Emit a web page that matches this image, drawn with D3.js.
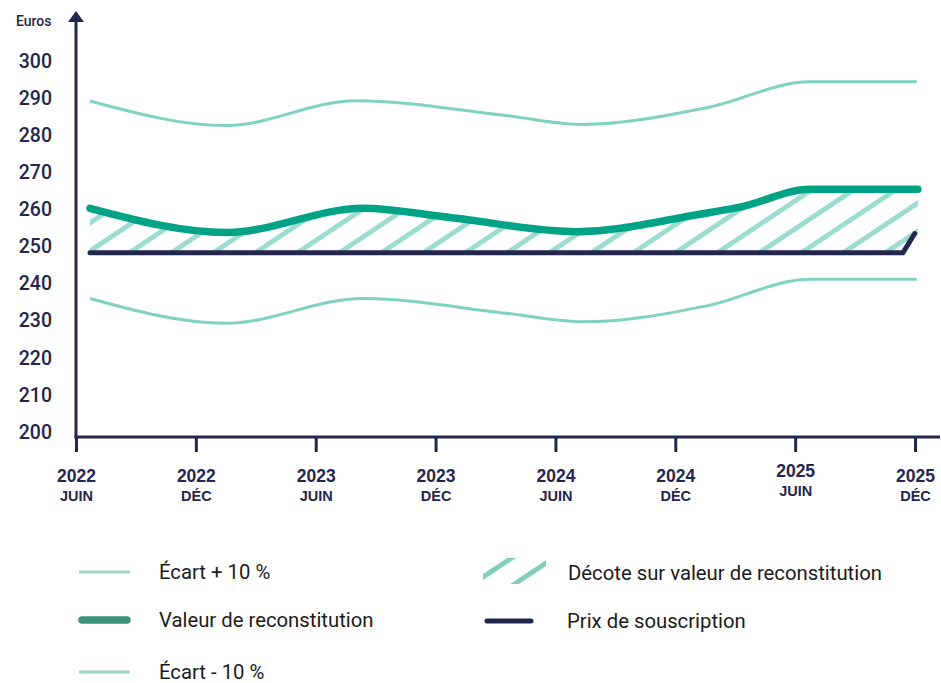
<!DOCTYPE html>
<html>
<head>
<meta charset="utf-8">
<script src="https://cdn.jsdelivr.net/npm/d3@7"></script>
<style>
  body { margin: 0; background: #fff; }
  svg { display: block; font-family: Roboto, "Noto Sans", sans-serif; }
</style>
</head>
<body>
<svg id="chart" width="941" height="683"></svg>
<script>
// months counted from June 2022, values in euros
const ecartPlus = [[0.70, 289.2], [7.51, 282.6], [14.01, 289.3], [21.52, 285.3], [25.23, 282.9], [31.58, 287.4], [36.74, 294.4], [42.09, 294.4]];
const valeur = [[0.70, 260.3], [7.56, 253.8], [14.36, 260.3], [18.72, 257.8], [25.08, 254.0], [31.23, 258.7], [33.23, 260.6], [36.74, 265.4], [42.14, 265.4]];
const ecartMoins = [[0.70, 236.0], [7.51, 229.3], [14.36, 236.0], [21.52, 232.0], [25.38, 229.7], [31.58, 234.0], [36.74, 241.2], [42.09, 241.2]];
const prix = [[0.70, 248.3], [41.39, 248.3], [41.99, 253.5]];

const tickMonths = [0, 6, 12, 18, 24, 30, 36, 42];
const tickYears = ["2022", "2022", "2023", "2023", "2024", "2024", "2025", "2025"];
const tickPeriods = ["JUIN", "DÉC", "JUIN", "DÉC", "JUIN", "DÉC", "JUIN", "DÉC"];
const yTicks = [200, 210, 220, 230, 240, 250, 260, 270, 280, 290, 300];

const navy = "#24264d";
const light = "#7fd2c1";
const main = "#00a386";

const svg = d3.select("#chart");
const x = d3.scaleLinear().domain([0, 42]).range([76, 915]);
const y = d3.scaleLinear().domain([200, 300]).range([432, 61]);
const axisY = 437;

// hatch pattern
const defs = svg.append("defs");
function hatch(id, color) {
  defs.append("pattern")
    .attr("id", id)
    .attr("patternUnits", "userSpaceOnUse")
    .attr("width", 10)
    .attr("height", 23.3)
    .attr("patternTransform", "rotate(-33.7)")
    .append("rect")
    .attr("width", 10)
    .attr("height", 5)
    .attr("fill", color);
}
hatch("hatch", "#9cdccf");
hatch("hatchLegend", "#80cdb9");

// hatched area between prix and valeur
const area = d3.area()
  .x(d => x(d[0]))
  .y0(y(prix[0][1]))
  .y1(d => y(d[1]))
  .curve(d3.curveMonotoneX);

svg.append("path")
  .datum(valeur)
  .attr("d", area)
  .attr("fill", "url(#hatch)");

const line = d3.line()
  .x(d => x(d[0]))
  .y(d => y(d[1]))
  .curve(d3.curveMonotoneX);

svg.append("path").datum(ecartPlus)
  .attr("d", line).attr("fill", "none")
  .attr("stroke", light).attr("stroke-width", 3);

svg.append("path").datum(ecartMoins)
  .attr("d", line).attr("fill", "none")
  .attr("stroke", light).attr("stroke-width", 3);

svg.append("path").datum(prix)
  .attr("d", d3.line().x(d => x(d[0])).y(d => y(d[1])))
  .attr("fill", "none")
  .attr("stroke", navy).attr("stroke-width", 5)
  .attr("stroke-linecap", "round").attr("stroke-linejoin", "round");

svg.append("path").datum(valeur)
  .attr("d", line).attr("fill", "none")
  .attr("stroke", main).attr("stroke-width", 7.5)
  .attr("stroke-linecap", "round");

// y axis
svg.append("line")
  .attr("x1", x(0)).attr("x2", x(0))
  .attr("y1", axisY + 1.5).attr("y2", 20)
  .attr("stroke", navy).attr("stroke-width", 3);
svg.append("path")
  .attr("d", `M${x(0)},11L${x(0) - 8},22L${x(0) + 8},22Z`)
  .attr("fill", navy);

const gy = svg.append("g")
  .attr("transform", `translate(${x(0)},0)`)
  .call(d3.axisLeft(y).tickValues(yTicks).tickSize(0).tickPadding(24));
gy.select(".domain").remove();
gy.selectAll("text")
  .attr("font-size", 19.5)
  .attr("font-weight", 500)
  .attr("font-family", "Roboto, sans-serif")
  .attr("fill", navy);

svg.append("text")
  .attr("x", 16).attr("y", 26)
  .attr("font-size", 14)
  .attr("font-weight", 500)
  .attr("fill", navy)
  .text("Euros");

// x axis
svg.append("line")
  .attr("x1", x(0) - 1.5).attr("x2", 940)
  .attr("y1", axisY).attr("y2", axisY)
  .attr("stroke", navy).attr("stroke-width", 3);

const gx = svg.append("g")
  .attr("transform", `translate(0,${axisY})`)
  .call(d3.axisBottom(x).tickValues(tickMonths).tickSize(15).tickFormat(""));
gx.select(".domain").remove();
gx.selectAll(".tick line").attr("stroke", navy).attr("stroke-width", 3);
gx.selectAll(".tick").each(function(d, i) {
  const g = d3.select(this);
  const lift = i === 6 ? -5 : 0;
  g.append("text")
    .attr("y", 45 + lift)
    .attr("text-anchor", "middle")
    .attr("font-size", 17.5)
    .attr("font-weight", 600)
    .attr("fill", navy)
    .text(tickYears[i]);
  g.append("text")
    .attr("y", 64 + lift)
    .attr("text-anchor", "middle")
    .attr("font-size", 14.5)
    .attr("font-weight", 600)
    .attr("fill", navy)
    .text(tickPeriods[i]);
});

// legend
const legend = svg.append("g").attr("font-size", 20.3).attr("fill", "#1b1b1b");
function legendLine(x1, x2, yy, color, w, label, tx) {
  legend.append("line")
    .attr("x1", x1).attr("x2", x2).attr("y1", yy).attr("y2", yy)
    .attr("stroke", color).attr("stroke-width", w)
    .attr("stroke-linecap", w > 4 ? "round" : "butt");
  legend.append("text")
    .attr("x", tx).attr("y", yy).attr("dy", "0.35em")
    .text(label);
}
legendLine(79, 130, 572, "#9fd4c6", 3, "Écart + 10 %", 159);
legendLine(82, 127, 620, "#3b917a", 7.5, "Valeur de reconstitution", 159);
legendLine(79, 130, 672, "#9fd4c6", 3, "Écart - 10 %", 159);
legendLine(487, 531, 621, navy, 5, "Prix de souscription", 567);

legend.append("rect")
  .attr("x", 483).attr("y", 558).attr("width", 63).attr("height", 26)
  .attr("fill", "url(#hatchLegend)");
legend.append("text")
  .attr("x", 568).attr("y", 573).attr("dy", "0.35em")
  .text("Décote sur valeur de reconstitution");
</script>
</body>
</html>
